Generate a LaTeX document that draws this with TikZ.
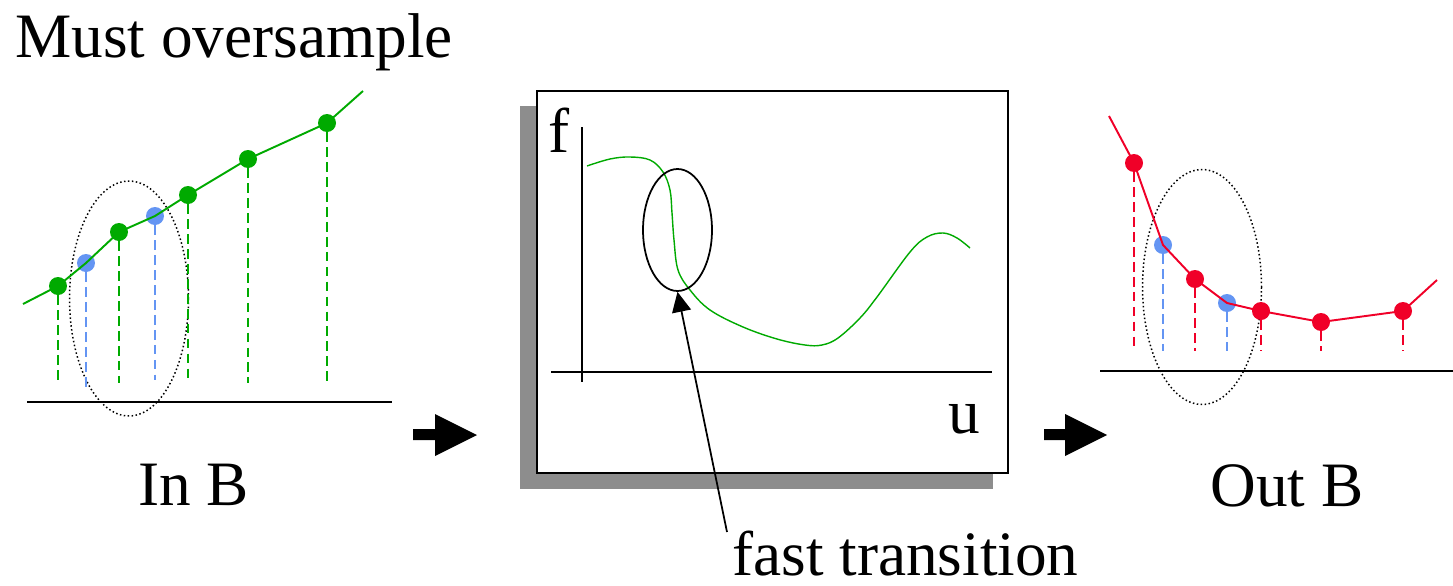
\documentclass[tikz,border=0pt]{standalone}
\usepackage{fontspec}
\setmainfont{LiberationSerif}[Extension=.ttf, UprightFont=*-Regular, BoldFont=*-Bold]
\usetikzlibrary{shapes.geometric,arrows.meta,positioning}
\definecolor{MyGreen}{rgb}{0.0, 0.667, 0.0}
\definecolor{MyBlue}{rgb}{0.392, 0.584, 0.953}
\definecolor{MyRed}{rgb}{0.941, 0.0, 0.157}
\definecolor{MyShadow}{rgb}{0.553, 0.553, 0.553}

\begin{document}
\begin{tikzpicture}[x=0.02cm, y=-0.02cm, >=Latex,
		caption/.style={anchor=base west, inner sep=0pt, font=\rmfamily\fontsize{36}{40}\selectfont},
		sample/.style={circle, fill=#1, inner sep=0pt, minimum size=0.36cm},
		drop/.style={#1, line width=1pt, dash pattern=on 5.5pt off 3pt},
		trace/.style={#1, line width=1.1pt},
		group/.style={ellipse, draw, line width=0.85pt, dash pattern=on 0.85pt off 1.4pt,
			inner sep=0pt, minimum width=2.38cm, minimum height=4.7cm},
		floor/.style={line width=1.4pt},
		bigarrow/.style={fill=black}]
		\useasboundingbox (0,0) rectangle (1453,585);

		% input samples
		\node[caption] (title) at (15,57) {Must oversample};
		\node[group] (inGroup) at (129,298.5) {};
		\node[sample=MyGreen] (g1) at (58,286) {};
		\node[sample=MyBlue] (b1) at (86,263) {};
		\node[sample=MyGreen] (g2) at (119,232) {};
		\node[sample=MyBlue] (b2) at (155,216) {};
		\node[sample=MyGreen] (g3) at (188,195) {};
		\node[sample=MyGreen] (g4) at (248,159) {};
		\node[sample=MyGreen] (g5) at (327,123) {};
		\coordinate (inStart) at (23,304);
		\coordinate (inEnd) at (363,91);
		\coordinate (inDrop) at (0,383);
		\draw[trace=MyGreen] (inStart) -- (g1.center) -- (b1.center) -- (g2.center) -- (b2.center)
			-- (g3.center) -- (g4.center) -- (g5.center) -- (inEnd);
		\draw[drop=MyGreen] (g1.south) -- (g1 |- inDrop);
		\draw[drop=MyBlue] (b1.south) -- ++(0,116);
		\draw[drop=MyGreen] (g2.south) -- (g2 |- inDrop);
		\draw[drop=MyBlue] (b2.south) -- ++(0,155);
		\draw[drop=MyGreen] (g3.south) -- (g3 |- inDrop);
		\draw[drop=MyGreen] (g4.south) -- (g4 |- inDrop);
		\draw[drop=MyGreen] (g5.south) -- (g5 |- inDrop);
		\draw[floor] (27,402) -- (392,402);
		\node[caption] (inB) at (138,505) {In B};

		\fill[bigarrow] (413,429) -- (435,429) -- (435,414) -- (477,435) -- (435,456) -- (435,440) -- (413,440) -- cycle;

		% filter response
		\fill[MyShadow] (520,106) rectangle (993,489);
		\draw[fill=white, line width=1.3pt] (537,91) rectangle (1008,473);
		\draw[line width=1pt] (582,127) -- (582,382);
		\draw[line width=1pt] (551,372) -- (992,372);
		\node[caption] (fLabel) at (548,152) {f};
		\node[caption] (uLabel) at (948,433) {u};
		\draw[MyGreen, line width=0.8pt] plot[smooth, tension=0.6] coordinates {
			(587,166) (610,159) (630,157) (650,160) (663,172) (670,190) (672,213) (674,240)
			(678,270) (690,290) (710,310) (743,327) (777,339) (805,345) (822,345) (838,338)
			(860,318) (877,297) (910,252) (927,237) (943,233) (957,238) (970,248)};
		\node[ellipse, draw, line width=1pt, inner sep=0pt, minimum width=1.38cm, minimum height=2.44cm]
			(trans) at (677.5,230) {};
		\node[caption] (fast) at (732,575) {fast transition};
		\coordinate (fastTail) at (727,532);
		\draw[-{Triangle[length=0.4cm, width=0.38cm]}, line width=1pt] (fastTail) -- (trans.south);

		\fill[bigarrow] (1044,429) -- (1065,429) -- (1065,414) -- (1107,435) -- (1065,456) -- (1065,440) -- (1044,440) -- cycle;

		% output samples
		\node[group] (outGroup) at (1202,287) {};
		\node[sample=MyRed] (r1) at (1134,163) {};
		\node[sample=MyBlue] (b3) at (1163,245) {};
		\node[sample=MyRed] (r2) at (1195,279) {};
		\node[sample=MyBlue] (b4) at (1227,303) {};
		\node[sample=MyRed] (r3) at (1261,311) {};
		\node[sample=MyRed] (r4) at (1321,322) {};
		\node[sample=MyRed] (r5) at (1403,311) {};
		\coordinate (outStart) at (1109,116);
		\coordinate (outEnd) at (1437,280);
		\coordinate (outDrop) at (0,351);
		\draw[trace=MyRed] (outStart) -- (r1.center) -- (b3.center) -- (r2.center) -- (b4.center)
			-- (r3.center) -- (r4.center) -- (r5.center) -- (outEnd);
		\draw[drop=MyRed] (r1.south) -- (r1 |- outDrop);
		\draw[drop=MyBlue] (b3.south) -- (b3 |- outDrop);
		\draw[drop=MyRed] (r2.south) -- (r2 |- outDrop);
		\draw[drop=MyBlue] (b4.south) -- (b4 |- outDrop);
		\draw[drop=MyRed] (r3.south) -- (r3 |- outDrop);
		\draw[drop=MyRed] (r4.south) -- (r4 |- outDrop);
		\draw[drop=MyRed] (r5.south) -- (r5 |- outDrop);
		\draw[floor] (1100,371) -- (1453,371);
		\node[caption] (outB) at (1210,506) {Out B};
	\end{tikzpicture}
\end{document}
